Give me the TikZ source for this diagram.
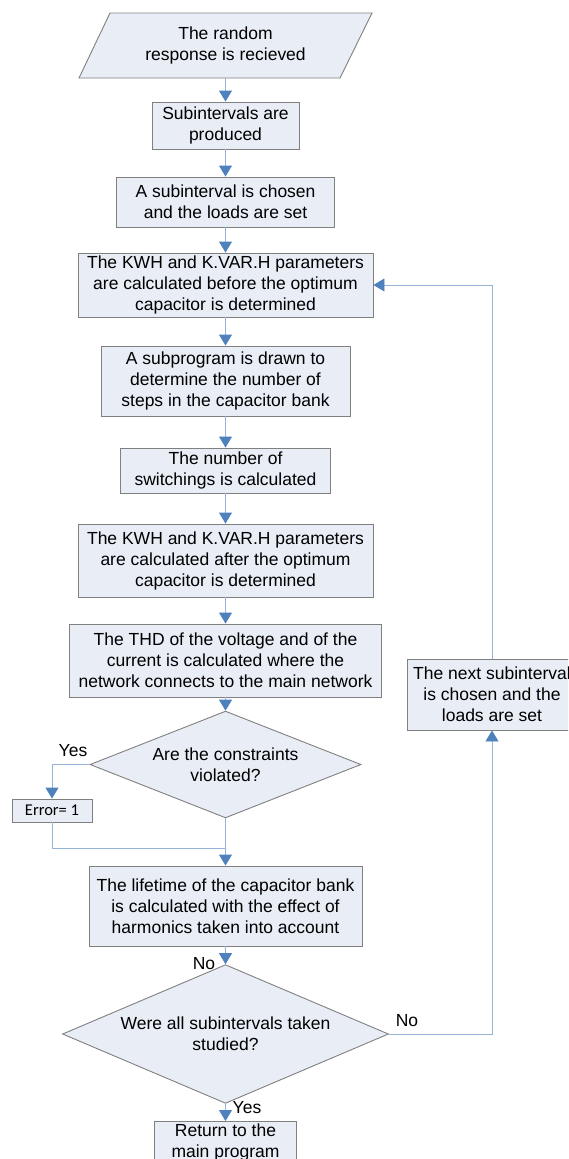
\documentclass[tikz,border=0pt]{standalone}
\usepackage{fontspec}
\setmainfont{Liberation Sans}
\newfontfamily\carl{Carlito}
\usetikzlibrary{arrows.meta,shapes.geometric}
\definecolor{boxfill}{RGB}{233,237,246}
\definecolor{boxline}{RGB}{128,128,128}
\definecolor{conline}{RGB}{149,179,215}
\definecolor{tipblue}{RGB}{79,129,189}
\tikzset{
  txt/.style={font=\fontsize{17.5}{21}\selectfont, align=center, inner sep=0pt},
  stepbox/.style={txt, draw=boxline, fill=boxfill, line width=0.9pt, rectangle},
  decbox/.style={txt, draw=boxline, fill=boxfill, line width=0.9pt, diamond, aspect=2},
  con/.style={draw=conline, line width=0.9pt},
  arr/.style={con, -{Triangle[length=11pt,width=13pt,color=tipblue]}},
  lbl/.style={font=\fontsize{17.5}{21}\selectfont, inner sep=0pt}
}
\begin{document}
\begin{tikzpicture}[x=1pt,y=-1pt]
\useasboundingbox (0,0) rectangle (568,1159);
\clip (0,0) rectangle (568,1159);
\fill[white] (0,0) rectangle (568,1159);
% start parallelogram
\draw[draw=boxline, fill=boxfill, line width=0.9pt] (110,13) -- (372,13) -- (340,78) -- (79,78) -- cycle;
\node[txt, minimum width=200pt, minimum height=65pt] (start) at (225.5,45.5) {The random\\response is recieved};
\node[stepbox, minimum width=147pt, minimum height=47pt] (b2) at (225.5,125.5) {Subintervals are\\produced};
\node[stepbox, minimum width=218pt, minimum height=50pt] (b3) at (225.5,202) {A subinterval is chosen\\and the loads are set};
\node[stepbox, minimum width=295pt, minimum height=64pt] (b4) at (225.5,285) {The KWH and K.VAR.H parameters\\are calculated before the optimum\\capacitor is determined};
\node[stepbox, minimum width=249pt, minimum height=70pt] (b5) at (225.5,381) {A subprogram is drawn to\\determine the number of\\steps in the capacitor bank};
\node[stepbox, minimum width=210pt, minimum height=45pt] (b6) at (225.5,470.5) {The number of\\switchings is calculated};
\node[stepbox, minimum width=295pt, minimum height=73pt] (b7) at (225.5,560.5) {The KWH and K.VAR.H parameters\\are calculated after the optimum\\capacitor is determined};
\node[stepbox, minimum width=312pt, minimum height=73pt] (b8) at (225.5,660.5) {The THD of the voltage and of the\\current is calculated where the\\network connects to the main network};
\node[decbox, minimum width=271pt, minimum height=77pt] (d1) at (225.5,764.5) {Are the constraints\\violated?};
\node[stepbox, minimum width=80pt, minimum height=23pt, font=\carl\fontsize{16.5}{19}\selectfont] (err) at (52,810.5) {Error= 1};
\node[stepbox, minimum width=273pt, minimum height=80pt] (b9) at (225.5,906) {The lifetime of the capacitor bank\\is calculated with the effect of\\harmonics taken into account};
\node[decbox, minimum width=326pt, minimum height=108pt] (d2) at (225.5,1034) {Were all subintervals taken\\studied?};
\node[stepbox, minimum width=142pt, minimum height=60pt, anchor=north] (ret) at (225.5,1121) {\raisebox{0pt}[0pt][0pt]{}Return to the\\main program\\\phantom{x}};
\node[stepbox, minimum width=170pt, minimum height=71pt] (next) at (492,694.5) {The next subinterval\\is chosen and the\\loads are set};
% connectors
\draw[arr] (start.south) -- (b2.north);
\draw[arr] (b2.south) -- (b3.north);
\draw[arr] (b3.south) -- (b4.north);
\draw[arr] (b4.south) -- (b5.north);
\draw[arr] (b5.south) -- (b6.north);
\draw[arr] (b6.south) -- (b7.north);
\draw[arr] (b7.south) -- (b8.north);
\draw[arr] (b8.south) -- (d1.north);
\coordinate (yc) at (52,764.5);
\draw[arr] (d1.west) -- (yc) -- (err.north);
\node[lbl] (yes1) at (73,751) {Yes};
\coordinate (jn) at (225.5,848);
\draw[con] (err.south) |- (jn);
\draw[arr] (d1.south) -- (b9.north);
\draw[arr] (b9.south) -- (d2.north);
\node[lbl] (no1) at (204,964) {No};
\coordinate (rc) at (492,1034);
\draw[arr] (d2.east) -- (rc) -- (next.south);
\node[lbl] (no2) at (407,1021) {No};
\coordinate (tc) at (492,285);
\draw[arr] (next.north) -- (tc) -- (b4.east);
\draw[arr] (d2.south) -- (ret.north);
\node[lbl] (yes2) at (247,1108) {Yes};
\end{tikzpicture}
\end{document}
